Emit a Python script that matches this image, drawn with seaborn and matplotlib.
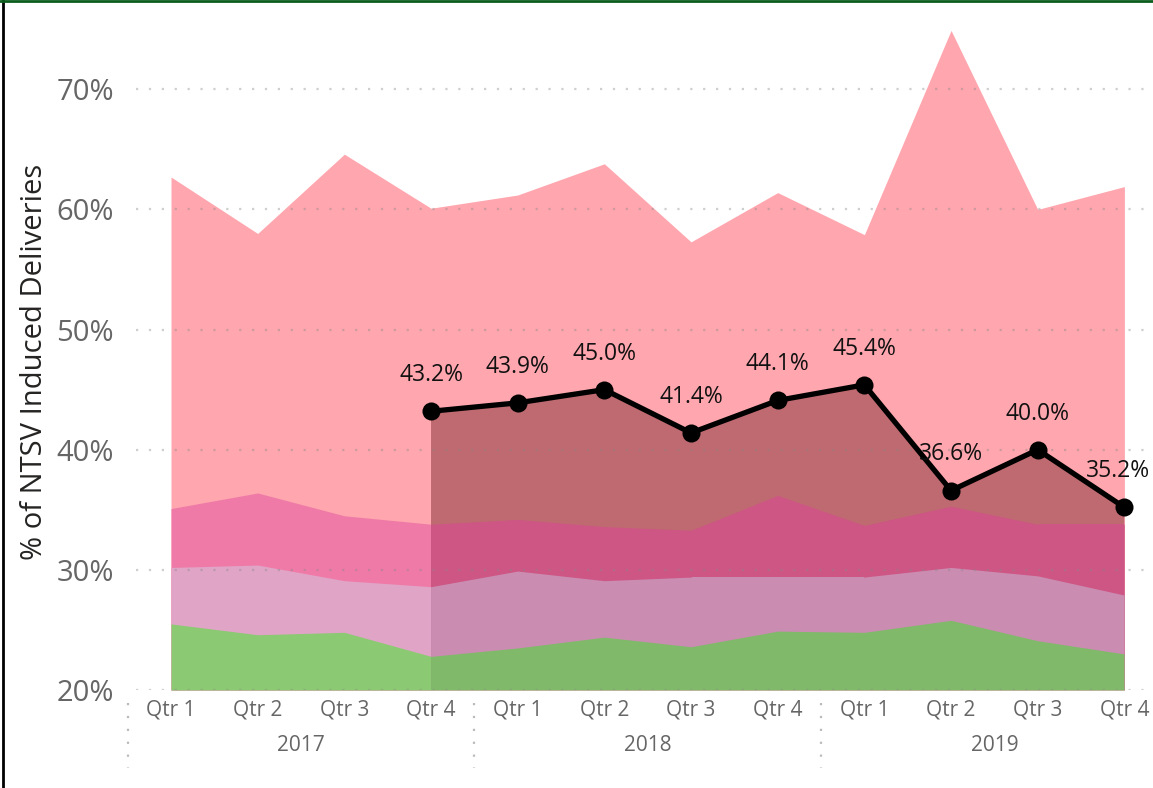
import matplotlib
matplotlib.use("Agg")
import matplotlib.pyplot as plt
from matplotlib.lines import Line2D
import matplotlib.transforms as mtransforms
import seaborn as sns
import numpy as np
import pandas as pd

# ---- data ----
quarters = ["Qtr 1", "Qtr 2", "Qtr 3", "Qtr 4"] * 3
years = ["2017", "2018", "2019"]
layer_red = [62.7, 58.0, 64.6, 60.1, 61.2, 63.8, 57.3, 61.4, 57.9, 74.9, 60.0, 61.9]
layer_pink = [35.1, 36.4, 34.5, 33.8, 34.2, 33.6, 33.3, 36.2, 33.7, 35.3, 33.8, 33.8]
layer_purple = [30.2, 30.4, 29.1, 28.6, 29.9, 29.1, 29.4, 29.4, 29.4, 30.2, 29.5, 27.9]
layer_green = [25.5, 24.6, 24.8, 22.8, 23.5, 24.4, 23.6, 24.9, 24.8, 25.8, 24.1, 23.0]
line_start = 3
line_values = [43.2, 43.9, 45.0, 41.4, 44.1, 45.4, 36.6, 40.0, 35.2]

sns.set_theme(style="white")
plt.rcParams["font.family"] = ["Open Sans", "DejaVu Sans"]

fig = plt.figure(figsize=(11.53, 7.88), dpi=100)
ax = fig.add_axes([136/1153, (788-690)/788, (1153-136)/1153, (690-16)/788])

x = np.arange(len(quarters))
base = 20

layers = [
    (layer_red, "#FFA6AE", "#BF6A70"),
    (layer_pink, "#EF7AA7", "#CD5684"),
    (layer_purple, "#E0A4C6", "#CA8CB1"),
    (layer_green, "#8BC972", "#80B96A"),
]
for vals, c, _ in layers:
    ax.fill_between(x, base, vals, color=c, linewidth=0, zorder=1)

# shaded area under line
xl = x[line_start:line_start + len(line_values)]
clip_poly = ax.fill_between(xl, base, line_values, color="none", linewidth=0)
clip_path = clip_poly.get_paths()[0]
for vals, _, dc in layers:
    p = ax.fill_between(x, base, vals, color=dc, linewidth=0, zorder=2)
    p.set_clip_path(clip_path, ax.transData)

# gridlines
for yv in [20, 30, 40, 50, 60, 70]:
    ax.axhline(yv, color="#888888", alpha=0.4, linewidth=1.6,
               linestyle=(0, (1, 4.8)), zorder=3)

df = pd.DataFrame({"x": xl, "v": line_values})
sns.lineplot(data=df, x="x", y="v", ax=ax, color="black", linewidth=3.8,
             marker="o", markersize=13, markeredgewidth=0, zorder=5)

n = len(line_values)
for k, (xi, v) in enumerate(zip(xl, line_values)):
    dx = -4.5 if k == n - 1 else 0
    ax.annotate(f"{v:.1f}%", (xi, v), xytext=(dx, 26), textcoords="offset points",
                ha="center", va="center", fontsize=16.5, color="#111111", zorder=6)

ax.set_xlim(-0.404, 11.33)
ax.set_ylim(20, 76.1)
ax.set_yticks([20, 30, 40, 50, 60, 70])
ax.set_yticklabels([f"{t}%" for t in [20, 30, 40, 50, 60, 70]],
                   fontsize=21, color="#666666")
ax.set_xticks(x)
ax.set_xticklabels(quarters, fontsize=15, color="#666666")
ax.tick_params(axis="x", length=0, pad=7)
ax.tick_params(axis="y", length=0, pad=16)
ax.set_xlabel("")
ax.set_ylabel("")
for s in ax.spines.values():
    s.set_visible(False)

# year labels
for i, yr in enumerate(years):
    ax.annotate(yr, (i * 4 + 1.5, 0), xycoords=("data", "axes fraction"),
                xytext=(0, -40), textcoords="offset points",
                ha="center", va="center", fontsize=15, color="#666666")

# group separators
trans = mtransforms.blended_transform_factory(ax.transData, fig.transFigure)
for sx in [-0.5, 3.5, 7.5]:
    ax.add_line(Line2D([sx, sx], [(788-703)/788, (788-768)/788], transform=trans,
                       color="#BBBBBB", linewidth=1.6, linestyle=(0, (1, 4.8)),
                       clip_on=False))

fig.text(35/1153, (788-362)/788, "% of NTSV Induced Deliveries", rotation=90,
         ha="center", va="center", fontsize=21, color="#252423")

# frame lines
fig.add_artist(Line2D([3/1153, 3/1153], [0, 1], transform=fig.transFigure,
                      color="black", linewidth=2))
fig.add_artist(Line2D([0, 1], [1 - 1/788, 1 - 1/788], transform=fig.transFigure,
                      color="#0B5D1E", linewidth=2))

fig.savefig("out.png", dpi=100)
